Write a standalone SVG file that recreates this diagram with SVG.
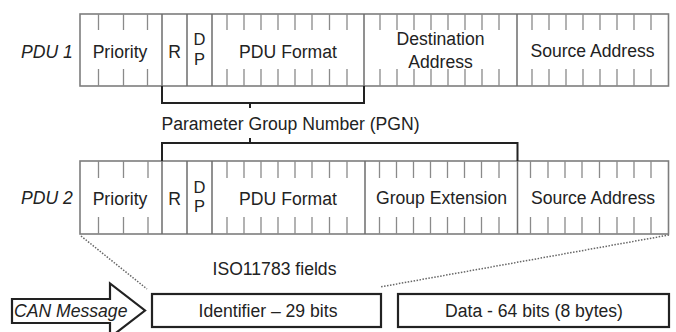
<svg xmlns="http://www.w3.org/2000/svg" width="676" height="332" viewBox="0 0 676 332">
<style>
text{font-family:"Liberation Sans",Arial,sans-serif;font-size:17.6px;fill:#222}
.it{font-style:italic}
.m{text-anchor:middle}
.dp{font-size:16.5px}
.frame{fill:none;stroke:#7d7d7d;stroke-width:1.6}
.sep{fill:none;stroke:#6e6e6e;stroke-width:1.5}
.tick{fill:none;stroke:#8a8a8a;stroke-width:1.3}
.br{fill:none;stroke:#222;stroke-width:2}
.box{fill:#fff;stroke:#222;stroke-width:2.2}
.dot{fill:none;stroke:#666;stroke-width:1.5;stroke-dasharray:1.5 1.5}
</style>
<rect width="676" height="332" fill="#fff"/>
<g id="pdu1">
<rect class="frame" x="80" y="14" width="588.5" height="72"/>
<path class="sep" d="M162 14V86M187 14V86M212 14V86M364 14V86M517 14V86"/>
<path class="tick" d="M98.5 14V30M123.5 14V30M147.5 14V30M227 14V30M244 14V30M261 14V30M278 14V30M295 14V30M312 14V30M329.5 14V30M347 14V30M380 14V30M397 14V30M414 14V30M431 14V30M448 14V30M465 14V30M482 14V30M499 14V30M532 14V30M549 14V30M566 14V30M583 14V30M600 14V30M617 14V30M634 14V30M651 14V30
M98.5 69V86M123.5 69V86M147.5 69V86M227 69V86M244 69V86M261 69V86M278 69V86M295 69V86M312 69V86M329.5 69V86M347 69V86M380 69V86M397 69V86M414 69V86M431 69V86M448 69V86M465 69V86M482 69V86M499 69V86M532 69V86M549 69V86M566 69V86M583 69V86M600 69V86M617 69V86M634 69V86M651 69V86"/>
<text class="it" x="21" y="58">PDU 1</text>
<text class="m" x="120" y="57.5">Priority</text>
<text class="m" x="174.5" y="57.5">R</text>
<text class="m dp" x="199.5" y="45">D</text>
<text class="m dp" x="199.5" y="64.5">P</text>
<text class="m" x="288" y="57.5">PDU Format</text>
<text class="m" x="440.5" y="44.5">Destination</text>
<text class="m" x="440.5" y="67.5">Address</text>
<text class="m" x="592.5" y="57">Source Address</text>
</g>
<g id="pdu2">
<rect class="frame" x="80" y="161" width="588.5" height="73"/>
<path class="sep" d="M162 161V234M187 161V234M212 161V234M365 161V234M517.5 161V234"/>
<path class="tick" d="M98.5 161V178M123.5 161V178M148 161V178M227 161V178M244 161V178M261 161V178M278 161V178M295 161V178M312 161V178M329.5 161V178M347 161V178M379.5 161V178M396.5 161V178M413.5 161V178M430.5 161V178M447.5 161V178M464.5 161V178M481.5 161V178M499 161V178M530.5 161V178M548 161V178M565 161V178M582 161V178M599.5 161V178M617 161V178M634 161V178M651 161V178
M98.5 217V234M123.5 217V234M148 217V234M227 217V234M244 217V234M261 217V234M278 217V234M295 217V234M312 217V234M329.5 217V234M347 217V234M379.5 217V234M396.5 217V234M413.5 217V234M430.5 217V234M447.5 217V234M464.5 217V234M481.5 217V234M499 217V234M530.5 217V234M548 217V234M565 217V234M582 217V234M599.5 217V234M617 217V234M634 217V234M651 217V234"/>
<text class="it" x="21" y="204">PDU 2</text>
<text class="m" x="120" y="204.5">Priority</text>
<text class="m" x="174.5" y="204.5">R</text>
<text class="m dp" x="199.5" y="192.5">D</text>
<text class="m dp" x="199.5" y="212">P</text>
<text class="m" x="288" y="204.5">PDU Format</text>
<text class="m" x="441.5" y="204">Group Extension</text>
<text class="m" x="593" y="204">Source Address</text>
</g>
<g id="pgn">
<text class="m" x="290.5" y="130">Parameter Group Number (PGN)</text>
</g>
<g id="iso">
<text class="m" x="274.5" y="275">ISO11783 fields</text>
</g>
<g id="can">
<polygon class="box" points="12,299 110,299 110,283.5 145,310.5 110,337.5 110,323 12,323"/>
<text class="it" x="14" y="316.5">CAN Message</text>
</g>
<g id="identifier">
<rect class="box" x="152" y="294" width="229" height="33"/>
<text class="m" x="268" y="316.5">Identifier – 29 bits</text>
</g>
<g id="data">
<rect class="box" x="398" y="294" width="271" height="33"/>
<text class="m" x="534" y="316.5">Data - 64 bits (8 bytes)</text>
</g>
<g id="connectors">
<path class="br" d="M162 86V103H364V86M250 103V108"/>
<path class="br" d="M162 161V143H517.5V161M250 143V138"/>
<path class="dot" d="M81 236L147 289"/>
<path class="dot" d="M669 235L380 287"/>
</g>
</svg>
